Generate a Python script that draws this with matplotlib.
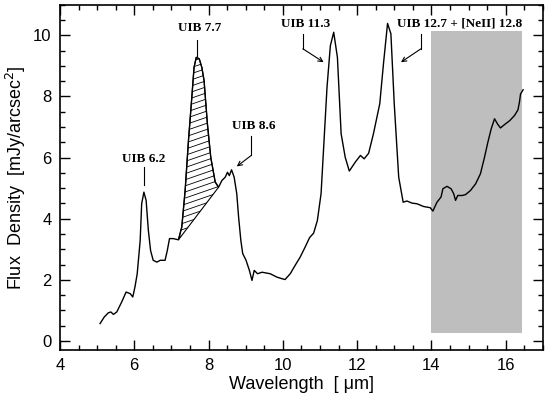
import numpy as np
import matplotlib
matplotlib.use('Agg')
import matplotlib.pyplot as plt
from matplotlib.patches import Polygon
from matplotlib.ticker import MultipleLocator

# spectrum
wavelength = [5.08, 5.19, 5.30, 5.37, 5.44, 5.53, 5.66, 5.78, 5.89, 5.96,
              6.02, 6.08, 6.16, 6.20, 6.26, 6.32, 6.38, 6.44, 6.51, 6.61,
              6.70, 6.83, 6.89, 6.95, 7.05, 7.19, 7.28, 7.37, 7.46, 7.55,
              7.61, 7.67, 7.75, 7.82, 7.88, 7.97, 8.06, 8.18, 8.27, 8.36,
              8.45, 8.51, 8.56, 8.62, 8.69, 8.76, 8.81, 8.87, 8.92, 9.01,
              9.10, 9.17, 9.23, 9.32, 9.44, 9.66, 9.84, 9.97, 10.06, 10.20,
              10.33, 10.47, 10.60, 10.72, 10.83, 10.93, 11.03, 11.10, 11.19, 11.28,
              11.37, 11.47, 11.57, 11.68, 11.79, 11.95, 12.09, 12.19, 12.31, 12.44,
              12.61, 12.71, 12.82, 12.91, 13.00, 13.12, 13.24, 13.34, 13.48, 13.61,
              13.79, 13.97, 14.04, 14.15, 14.26, 14.31, 14.42, 14.53, 14.60, 14.65,
              14.71, 14.83, 14.92, 15.05, 15.19, 15.32, 15.43, 15.52, 15.61, 15.70,
              15.78, 15.86, 15.99, 16.11, 16.24, 16.33, 16.37, 16.40, 16.47]
flux = [0.57, 0.78, 0.92, 0.95, 0.87, 0.95, 1.27, 1.60, 1.55, 1.44,
        1.77, 2.20, 3.29, 4.49, 4.87, 4.60, 3.62, 2.96, 2.64, 2.58,
        2.64, 2.64, 2.96, 3.35, 3.35, 3.31, 3.73, 4.92, 6.56, 7.97,
        8.95, 9.28, 9.23, 8.95, 8.52, 7.10, 6.01, 5.20, 5.03, 5.25,
        5.36, 5.52, 5.41, 5.60, 5.36, 4.82, 4.05, 3.29, 2.86, 2.64,
        2.31, 1.98, 2.31, 2.20, 2.25, 2.20, 2.09, 2.04, 2.01, 2.20,
        2.47, 2.75, 3.07, 3.38, 3.53, 3.94, 4.82, 6.34, 8.30, 9.66,
        10.10, 9.28, 6.78, 6.01, 5.56, 5.85, 6.07, 5.96, 6.14, 6.78,
        7.76, 9.07, 10.39, 10.05, 7.76, 5.36, 4.54, 4.58, 4.51, 4.49,
        4.40, 4.36, 4.25, 4.54, 4.71, 4.98, 5.06, 4.98, 4.82, 4.60,
        4.76, 4.76, 4.79, 4.92, 5.14, 5.47, 6.01, 6.50, 6.94, 7.27,
        7.10, 6.97, 7.10, 7.21, 7.38, 7.56, 7.81, 8.08, 8.22]

band_77 = (7.19, 8.27)       # hatched UIB 7.7 feature
grey_band = (14.0, 16.45)    # shaded wavelength range
grey_flux = (0.25, 10.15)

wl = np.array(wavelength)
fl = np.array(flux)

fig = plt.figure(figsize=(5.45, 3.97), dpi=100)
ax = fig.add_axes([0.110, 0.118, 0.886, 0.870])

ax.fill_between(grey_band, grey_flux[0], grey_flux[1], color='#bebebe', lw=0, zorder=1)

# hatched region between curve and straight continuum
sel = (wl >= band_77[0]) & (wl <= band_77[1])
poly = Polygon(np.column_stack([wl[sel], fl[sel]]), closed=True,
               fill=False, edgecolor='black', lw=0.8, zorder=2)
ax.add_patch(poly)
slope = 0.42
for c in np.arange(-4.0, 10.0, 0.2):
    xs = np.array([band_77[0] - 0.1, band_77[1] + 0.1])
    hl, = ax.plot(xs, c + slope * (xs - band_77[0]), color='black', lw=0.6, zorder=2)
    hl.set_clip_path(poly)

ax.plot(wl, fl, color='black', lw=1.0, zorder=3)

ax.set_xlim(4, 17)
ax.set_ylim(-0.3, 11)
ax.xaxis.set_major_locator(MultipleLocator(2))
ax.xaxis.set_minor_locator(MultipleLocator(0.5))
ax.yaxis.set_major_locator(MultipleLocator(2))
ax.yaxis.set_minor_locator(MultipleLocator(0.5))
ax.tick_params(which='both', direction='in', top=True, right=True, width=1.0,
               labelsize=12, pad=6)
ax.tick_params(which='major', length=7)
ax.tick_params(which='minor', length=3.5)
for s in ax.spines.values():
    s.set_linewidth(1.2)

ax.set_xlabel('Wavelength  [ \u03bcm]', fontsize=13, family='Liberation Sans', labelpad=2)
ax.set_ylabel('Flux  Density  [mJy/arcsec$^2$]', fontsize=13, family='Liberation Sans', labelpad=4)
for lab in ax.get_xticklabels() + ax.get_yticklabels():
    lab.set_family('Liberation Sans')

tfont = dict(family='Liberation Serif', fontweight='bold', fontsize=9.5, ha='center', va='center')
aprops = dict(arrowstyle='->', color='black', lw=0.8, shrinkA=0, shrinkB=0, mutation_scale=8)

ax.text(6.26, 5.95, 'UIB 6.2', **tfont)
ax.plot([6.26, 6.26], [5.68, 5.09], color='black', lw=0.8)

ax.text(7.77, 10.25, 'UIB 7.7', **tfont)
ax.plot([7.70, 7.70], [9.86, 9.32], color='black', lw=0.8)

ax.text(9.23, 7.02, 'UIB 8.6', **tfont)
ax.plot([9.15, 9.15], [6.71, 6.07], color='black', lw=0.8)
ax.annotate('', xy=(8.76, 5.71), xytext=(9.15, 6.07), arrowprops=aprops)

ax.text(10.62, 10.36, 'UIB 11.3', **tfont)
ax.plot([10.54, 10.54], [10.05, 9.56], color='black', lw=0.8)
ax.annotate('', xy=(11.10, 9.12), xytext=(10.54, 9.56), arrowprops=aprops)

ax.text(14.77, 10.38, 'UIB 12.7 + [NeII] 12.8', **tfont)
ax.plot([13.72, 13.72], [10.05, 9.56], color='black', lw=0.8)
ax.annotate('', xy=(13.18, 9.12), xytext=(13.72, 9.56), arrowprops=aprops)

fig.savefig('out.png', dpi=100)
